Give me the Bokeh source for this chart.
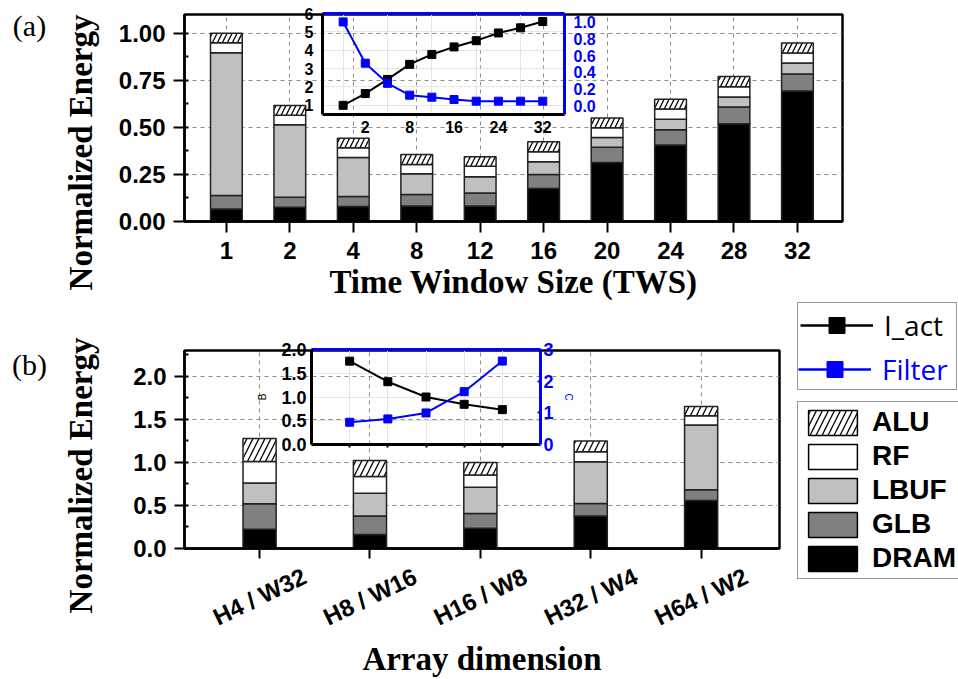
import math
from bokeh.plotting import figure
from bokeh.models import (Range1d, LinearAxis, FixedTicker, SingleIntervalTicker,
                          NumeralTickFormatter, Legend, LegendItem, Label, GridBox,
                          ColumnDataSource)
from bokeh.core.properties import value
from bokeh.embed import file_html
from bokeh.resources import INLINE

W, H = 958, 679

# ---------------- data ----------------
layers = ["DRAM", "GLB", "LBUF", "RF", "ALU"]
layer_colors = ["black", "#808080", "#c0c0c0", "white", "white"]
layer_hatch = [" ", " ", " ", " ", "/"]

tws = ["1", "2", "4", "8", "12", "16", "20", "24", "28", "32"]
tws_dram = [0.066, 0.076, 0.080, 0.083, 0.082, 0.176, 0.314, 0.406, 0.520, 0.693]
tws_glb = [0.072, 0.053, 0.053, 0.061, 0.070, 0.074, 0.080, 0.082, 0.088, 0.091]
tws_lbuf = [0.759, 0.385, 0.207, 0.110, 0.086, 0.067, 0.053, 0.056, 0.053, 0.058]
tws_rf = [0.053, 0.050, 0.052, 0.049, 0.055, 0.054, 0.051, 0.054, 0.055, 0.053]
tws_alu = [0.050, 0.053, 0.051, 0.053, 0.051, 0.053, 0.052, 0.051, 0.054, 0.054]
tws_iact = [1.0, 1.64, 2.41, 3.23, 3.77, 4.18, 4.52, 4.94, 5.22, 5.56]
tws_filter = [1.0, 0.51, 0.27, 0.13, 0.106, 0.078, 0.058, 0.058, 0.058, 0.058]
inset_a_ticks = ["2", "8", "16", "24", "32"]

arr = ["H4 / W32", "H8 / W16", "H16 / W8", "H32 / W4", "H64 / W2"]
arr_dram = [0.223, 0.162, 0.235, 0.377, 0.558]
arr_glb = [0.296, 0.215, 0.173, 0.146, 0.123]
arr_lbuf = [0.243, 0.265, 0.304, 0.485, 0.754]
arr_rf = [0.250, 0.193, 0.142, 0.115, 0.107]
arr_alu = [0.265, 0.188, 0.146, 0.127, 0.108]
arr_iact = [1.755, 1.322, 1.0, 0.846, 0.734]
arr_filter = [0.703, 0.808, 0.997, 1.668, 2.634]

BLUE = "#0000ff"
SANS = "Liberation Sans"
SERIF = "Liberation Serif"


def canvas_fig(left, top, fw, fh, **kw):
    p = figure(width=W, height=H,
               min_border_left=left, min_border_top=top,
               min_border_right=W - left - fw, min_border_bottom=H - top - fh,
               output_backend="svg", toolbar_location=None, **kw)
    p.frame_align = False
    p.background_fill_color = None
    p.border_fill_color = None
    p.outline_line_color = None
    return p


def style_axis(ax, size="24px", color="black"):
    ax.major_label_text_font = SANS
    ax.major_label_text_font_style = "bold"
    ax.major_label_text_font_size = size
    ax.major_label_text_color = color
    ax.axis_line_color = color
    ax.major_tick_line_color = color
    ax.minor_tick_line_color = color
    ax.axis_label_text_font = SERIF
    ax.axis_label_text_font_style = "bold"
    ax.axis_label_text_font_size = "33px"
    ax.axis_label_text_color = color


def grid_style(g):
    g.grid_line_color = "#8c8c8c"
    g.grid_line_dash = "4 4"
    g.grid_line_width = 1


# ---------------- (a) main ----------------
pa = canvas_fig(184, 14, 658, 207, x_range=Range1d(-0.66, 9.71), y_range=Range1d(0, 1.1))
pa.outline_line_color = "black"
pa.outline_line_width = 2.5
src_a = ColumnDataSource(dict(x=list(range(len(tws))), DRAM=tws_dram, GLB=tws_glb,
                              LBUF=tws_lbuf, RF=tws_rf, ALU=tws_alu))
pa.vbar_stack(layers, x="x", width=0.5, source=src_a, fill_color=layer_colors,
              hatch_pattern=layer_hatch, hatch_color="black", hatch_scale=10,
              hatch_weight=1.3, line_color="#222222", line_width=1.5)
xt_a = FixedTicker(ticks=list(range(len(tws))))
pa.xaxis.ticker = xt_a
pa.xgrid.ticker = xt_a
pa.xaxis.major_label_overrides = {i: t for i, t in enumerate(tws)}
yt_a = SingleIntervalTicker(interval=0.25, num_minor_ticks=2)
pa.yaxis.ticker = yt_a
pa.ygrid.ticker = yt_a
pa.yaxis.formatter = NumeralTickFormatter(format="0.00")
for ax in pa.axis:
    style_axis(ax)
    ax.axis_line_width = 2.5
    ax.major_tick_line_width = 2
    ax.major_tick_out = 11
    ax.major_tick_in = 0
    ax.minor_tick_in = 4
    ax.minor_tick_out = 0
    ax.minor_tick_line_width = 2
pa.xaxis.major_label_standoff = 9
pa.xaxis.axis_label = "Time Window Size (TWS)"
pa.xaxis.axis_label_standoff = 2
pa.yaxis.major_label_standoff = 8
pa.xaxis.minor_tick_line_color = None
grid_style(pa.xgrid)
grid_style(pa.ygrid)

# ---------------- (a) inset ----------------
pai = canvas_fig(322, 13, 242, 101, x_range=Range1d(-0.93, 9.98), y_range=Range1d(0.5, 6),
                 x_axis_location=None, y_axis_location=None)
pai.extra_y_ranges = {"f": Range1d(-0.1, 1.1)}
xi = list(range(len(tws)))
pai.line(xi, tws_iact, line_color="black", line_width=2)
pai.scatter(xi, tws_iact, marker="square", size=8, color="black")
pai.line(xi, tws_filter, line_color=BLUE, line_width=2, y_range_name="f")
pai.scatter(xi, tws_filter, marker="square", size=8, color=BLUE, y_range_name="f")
ai_bottom = LinearAxis(ticker=FixedTicker(ticks=[tws.index(t) for t in inset_a_ticks]),
                       major_label_overrides={tws.index(t): t for t in inset_a_ticks})
ai_left = LinearAxis(ticker=FixedTicker(ticks=[1, 2, 3, 4, 5, 6]))
ai_right = LinearAxis(y_range_name="f", ticker=FixedTicker(ticks=[0, 0.2, 0.4, 0.6, 0.8, 1.0]),
                      formatter=NumeralTickFormatter(format="0.0"))
ai_top = LinearAxis(ticker=FixedTicker(ticks=[]))
pai.add_layout(ai_bottom, "below")
pai.add_layout(ai_left, "left")
pai.add_layout(ai_right, "right")
pai.add_layout(ai_top, "above")
for ax, col in [(ai_bottom, "black"), (ai_left, "black"), (ai_right, BLUE), (ai_top, BLUE)]:
    style_axis(ax, size="16px", color=col)
    ax.axis_line_width = 3
    ax.major_tick_line_color = None
    ax.minor_tick_line_color = None
    ax.major_label_standoff = 3
ai_bottom.major_label_standoff = 0

# ---------------- (b) main ----------------
pb = canvas_fig(184, 350, 595, 199, x_range=Range1d(-0.68, 4.71), y_range=Range1d(0, 2.3))
pb.outline_line_color = "black"
pb.outline_line_width = 2.5
src_b = ColumnDataSource(dict(x=list(range(len(arr))), name=arr, DRAM=arr_dram, GLB=arr_glb,
                              LBUF=arr_lbuf, RF=arr_rf, ALU=arr_alu))
pb.vbar_stack(layers, x="x", width=0.3, source=src_b, fill_color=layer_colors,
              hatch_pattern=layer_hatch, hatch_color="black", hatch_scale=12,
              hatch_weight=1.3, line_color="#222222", line_width=1.5)
xt_b = FixedTicker(ticks=list(range(len(arr))))
pb.xaxis.ticker = xt_b
pb.xgrid.ticker = xt_b
pb.xaxis.major_label_overrides = {i: "" for i in range(len(arr))}
yt_b = SingleIntervalTicker(interval=0.5, num_minor_ticks=2)
pb.yaxis.ticker = yt_b
pb.ygrid.ticker = yt_b
pb.yaxis.formatter = NumeralTickFormatter(format="0.0")
for ax in pb.axis:
    style_axis(ax)
    ax.axis_line_width = 2.5
    ax.major_tick_line_width = 2
    ax.major_tick_out = 10
    ax.major_tick_in = 0
    ax.minor_tick_in = 4
    ax.minor_tick_out = 0
    ax.minor_tick_line_width = 2
pb.xaxis.minor_tick_line_color = None
pb.xaxis.major_label_standoff = 0
pb.xaxis.axis_label = "Array dimension"
pb.xaxis.axis_label_standoff = 82
pb.yaxis.major_label_standoff = 8
grid_style(pb.xgrid)
grid_style(pb.ygrid)

# rotated category labels of (b), placed through the shared x scale
pbl = canvas_fig(184, 547, 595, 98, x_range=pb.x_range, y_range=Range1d(0, 1),
                 x_axis_location=None, y_axis_location=None)
pbl.xgrid.visible = False
pbl.ygrid.visible = False
pbl.text(x="x", y=0.5, text="name", source=src_b, angle=0.45,
         text_align="center", text_baseline="middle",
         text_font=value(SANS), text_font_style="bold", text_font_size="24px",
         text_color="black")

# ---------------- (b) inset ----------------
pbi = canvas_fig(311, 349, 229, 95, x_range=Range1d(-1, 5), y_range=Range1d(0, 2),
                 x_axis_location=None, y_axis_location=None)
pbi.extra_y_ranges = {"f": Range1d(0, 3)}
xb = list(range(len(arr)))
pbi.line(xb, arr_iact, line_color="black", line_width=2)
pbi.scatter(xb, arr_iact, marker="square", size=8, color="black")
pbi.line(xb, arr_filter, line_color=BLUE, line_width=2, y_range_name="f")
pbi.scatter(xb, arr_filter, marker="square", size=8, color=BLUE, y_range_name="f")
bi_bottom = LinearAxis(ticker=FixedTicker(ticks=xb),
                       major_label_overrides={i: "" for i in xb})
bi_left = LinearAxis(ticker=FixedTicker(ticks=[0, 0.5, 1.0, 1.5, 2.0]),
                     formatter=NumeralTickFormatter(format="0.0"), axis_label="B")
bi_right = LinearAxis(y_range_name="f", ticker=FixedTicker(ticks=[0, 1, 2, 3]), axis_label="C")
bi_top = LinearAxis(ticker=FixedTicker(ticks=[]))
pbi.add_layout(bi_bottom, "below")
pbi.add_layout(bi_left, "left")
pbi.add_layout(bi_right, "right")
pbi.add_layout(bi_top, "above")
for ax, col in [(bi_bottom, "black"), (bi_left, "black"), (bi_right, BLUE), (bi_top, BLUE)]:
    style_axis(ax, size="18px", color=col)
    ax.axis_line_width = 3
    ax.major_tick_in = 0
    ax.major_tick_out = 3
    ax.major_tick_line_width = 2
    ax.minor_tick_line_color = None
    ax.major_label_standoff = 2
    ax.axis_label_text_font = SANS
    ax.axis_label_text_font_style = "normal"
    ax.axis_label_text_font_size = "10px"
    ax.axis_label_standoff = 10
bi_right.major_tick_in = 3
bi_right.major_tick_out = 0
bi_right.major_label_standoff = 3
bi_right.axis_label_standoff = 6
bi_left.major_tick_line_color = None
bi_top.major_tick_line_color = None

# ---------------- decorations: legends, panel and y-axis titles ----------------
pd = canvas_fig(0, 0, W, H, x_range=Range1d(0, 1), y_range=Range1d(0, 1),
                x_axis_location=None, y_axis_location=None)
pd.xgrid.visible = False
pd.ygrid.visible = False
bars_leg = pd.vbar_stack(layers, x="x", width=0.3, source=src_b, fill_color=layer_colors,
                         hatch_pattern=layer_hatch, hatch_color="black", hatch_scale=12,
                         hatch_weight=1.3, line_color="black", line_width=1.5, visible=False)
l1 = pd.line(xb, arr_iact, line_color="black", line_width=2.5, visible=False)
s1 = pd.scatter(xb, arr_iact, marker="square", size=10, color="black", visible=False)
l2 = pd.line(xb, arr_filter, line_color=BLUE, line_width=2.5, visible=False)
s2 = pd.scatter(xb, arr_filter, marker="square", size=10, color=BLUE, visible=False)

leg_c = Legend(items=[LegendItem(label=layers[i], renderers=[bars_leg[i]])
                      for i in reversed(range(len(layers)))],
               location=(797, 100), glyph_width=61, glyph_height=31, label_height=31,
               spacing=2, padding=4, margin=0, label_standoff=9,
               border_line_color="#333333", border_line_width=1.5,
               background_fill_color="white", background_fill_alpha=1,
               label_text_font=SANS, label_text_font_style="bold",
               label_text_color="black",
               label_text_font_size="28px", click_policy="none")
leg_kw = dict(glyph_width=73, glyph_height=40, label_height=40,
              label_standoff=11, margin=0, label_text_font="Open Sans",
              label_text_font_size="28px", click_policy="none")
leg_a = Legend(items=[LegendItem(label="I_act", renderers=[l1, s1]),
                      LegendItem(label="\u2003\u2003\u2002", renderers=[l2, s2])],
               location=(797, 289), padding=2, spacing=2,
               border_line_color="#333333", border_line_width=1.5,
               background_fill_color="white", background_fill_alpha=1,
               label_text_color="black", **leg_kw)
leg_b = Legend(items=[LegendItem(label="Filter", renderers=[l2, s2])],
               location=(798, 290), padding=1, spacing=0,
               border_line_color=None,
               background_fill_color="white", background_fill_alpha=1,
               label_text_color=BLUE, **leg_kw)
pd.add_layout(leg_c)
pd.add_layout(leg_a)
pd.add_layout(leg_b)

for txt, yy in [("(a)", 654), ("(b)", 315)]:
    pd.add_layout(Label(x=29, y=yy, x_units="screen", y_units="screen", text=txt,
                        text_font=SERIF, text_font_size="30px", text_align="center",
                        text_baseline="middle", text_color="black"))
for yy in [527, 204]:
    pd.add_layout(Label(x=80, y=yy, x_units="screen", y_units="screen",
                        text="Normalized Energy", angle=math.pi / 2,
                        text_font=SERIF, text_font_style="bold", text_font_size="33px",
                        text_align="center", text_baseline="middle", text_color="black"))

grid = GridBox(children=[(pa, 0, 0), (pai, 0, 0), (pb, 0, 0), (pbl, 0, 0),
                         (pbi, 0, 0), (pd, 0, 0)])
open("out.html", "w").write(file_html(grid, INLINE))
